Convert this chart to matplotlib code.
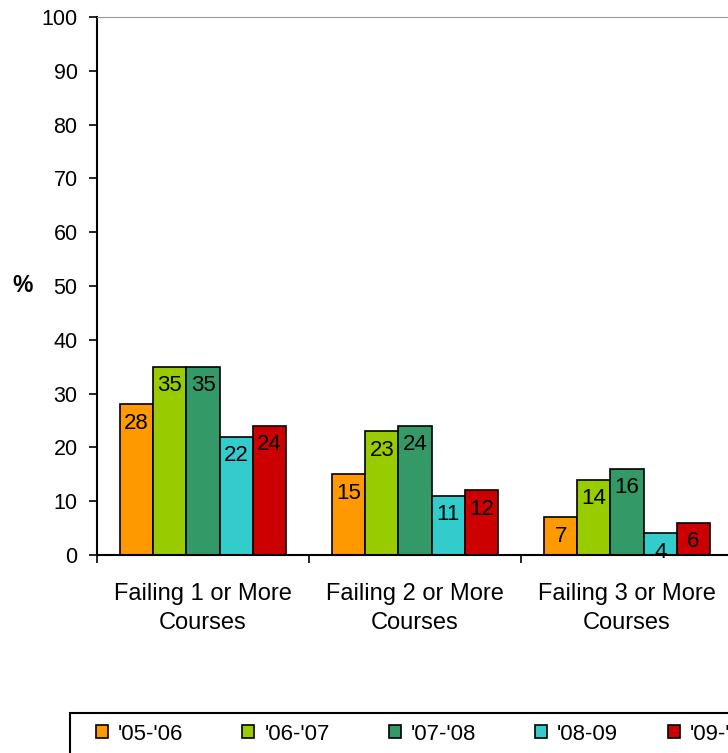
import numpy as np
import matplotlib
matplotlib.use("Agg")
import matplotlib.pyplot as plt
from matplotlib.patches import Rectangle

plt.rcParams['font.family'] = ['Liberation Sans', 'DejaVu Sans']

# data
categories = ["Failing 1 or More\nCourses", "Failing 2 or More\nCourses", "Failing 3 or More\nCourses"]
series_names = ["'05-'06", "'06-'07", "'07-'08", "'08-09", "'09-'10"]
v_05_06 = [28, 15, 7]
v_06_07 = [35, 23, 14]
v_07_08 = [35, 24, 16]
v_08_09 = [22, 11, 4]
v_09_10 = [24, 12, 6]
colors = ["#FF9900", "#99CC00", "#339966", "#33CCCC", "#CC0000"]

series = [v_05_06, v_06_07, v_07_08, v_08_09, v_09_10]

W, H = 728, 753
fig = plt.figure(figsize=(W / 100, H / 100), dpi=100)
# axes runs slightly past the right edge, like the cropped original
ax = fig.add_axes([97 / W, 1 - 555 / H, 636 / W, 538 / H])

x = np.arange(len(categories))
bw = 0.1566
handles = []
for j, (vals, c) in enumerate(zip(series, colors)):
    bars = ax.bar(x + (j - 2) * bw, vals, width=bw, color=c,
                  edgecolor="black", linewidth=1.2, label=series_names[j])
    handles.append(bars)
    for rect, v in zip(bars, vals):
        ax.annotate(str(v), (rect.get_x() + rect.get_width() / 2, v),
                    xytext=(0, -6), textcoords="offset points",
                    ha="center", va="top", fontsize=16)

ax.set_xlim(-0.5, 2.5)
ax.set_ylim(0, 100)
ax.set_yticks(np.arange(0, 101, 10))
ax.tick_params(axis="y", labelsize=15.5, length=6, width=1.2, pad=8, direction="out")

# category labels at the group centers, tick marks between groups
ax.set_xticks(x)
ax.set_xticklabels(categories, fontsize=17, linespacing=1.4)
ax.tick_params(axis="x", which="major", length=0, pad=20)
ax.set_xticks(np.arange(-0.5, 3.0, 1.0), minor=True)
ax.tick_params(axis="x", which="minor", length=6, width=1.2, direction="out")

ax.spines["left"].set_linewidth(1.5)
ax.spines["bottom"].set_linewidth(1.5)
ax.spines["top"].set_color("#999999")
ax.spines["right"].set_visible(False)

fig.text(22.5 / W, 1 - 286 / H, "%", fontsize=16.5, fontweight="bold",
         ha="center", va="center")

# legend box, cut off at the right and bottom like the reference
fig.add_artist(Rectangle((70 / W, -0.05), 700 / W, 0.05 + 1 - 713 / H,
                         transform=fig.transFigure, facecolor="white",
                         edgecolor="black", linewidth=1.5, clip_on=False))
leg_kw = dict(loc="center left", frameon=False, fontsize=16,
              handlelength=0.55, handleheight=0.55, handletextpad=0.45,
              columnspacing=2.64, borderpad=0, borderaxespad=0)
# first four entries in one row, the last one sits a bit closer (as in the original)
fig.legend(handles=handles[:4], labels=series_names[:4], ncol=4,
           bbox_to_anchor=(96 / W, 1 - 734 / H), **leg_kw)
fig.legend(handles=handles[4:], labels=series_names[4:], ncol=1,
           bbox_to_anchor=(668 / W, 1 - 734 / H), **leg_kw)

fig.savefig("out.png", dpi=100)
